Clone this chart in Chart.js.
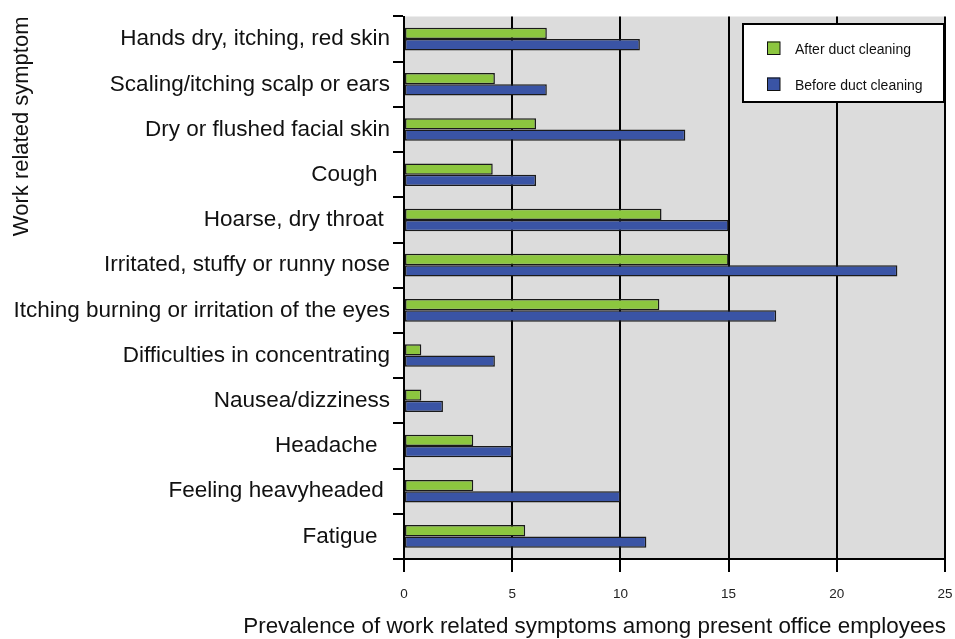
<!DOCTYPE html>
<html>
<head>
<meta charset="utf-8">
<script src="https://cdn.jsdelivr.net/npm/chart.js@4.4.0/dist/chart.umd.min.js"></script>
<style>
  html, body { margin: 0; padding: 0; background: #fff; }
  #wrap { width: 955px; height: 639px; }
</style>
</head>
<body>
<div id="wrap"><canvas id="chart" width="955" height="639"></canvas></div>
<script>
const symptoms = [
    "Hands dry, itching, red skin",
    "Scaling/itching scalp or ears",
    "Dry or flushed facial skin",
    "Cough  ",
    "Hoarse, dry throat ",
    "Irritated, stuffy or runny nose",
    "Itching burning or irritation of the eyes",
    "Difficulties in concentrating",
    "Nausea/dizziness",
    "Headache  ",
    "Feeling heavyheaded ",
    "Fatigue  "
];
const afterCleaning = [6.6, 4.2, 6.1, 4.1, 11.9, 15.0, 11.8, 0.8, 0.8, 3.2, 3.2, 5.6];
const beforeCleaning = [10.9, 6.6, 13.0, 6.1, 15.0, 22.8, 17.2, 4.2, 1.8, 5.0, 10.0, 11.2];
const xTicks = [0, 5, 10, 15, 20, 25];
const xTitle = 'Prevalence of work related symptoms among present office employees';

const FONT = "'Liberation Sans', Arial, Helvetica, sans-serif";
const GREEN = '#8cc63f';
const BLUE = '#3a54a5';

// grey plot area
const plotBackground = {
    id: 'plotBackground',
    beforeDraw(chart) {
        const { ctx, chartArea: a } = chart;
        ctx.save();
        ctx.fillStyle = '#dcdcdc';
        ctx.fillRect(a.left, a.top, a.right - a.left, a.bottom - a.top);
        ctx.restore();
    }
};

// x title runs wider than the plot, so it is drawn here, right aligned to the plot
const wideXTitle = {
    id: 'wideXTitle',
    afterDraw(chart) {
        const { ctx, chartArea: a } = chart;
        ctx.save();
        ctx.font = `22.4px ${FONT}`;
        ctx.fillStyle = '#111';
        ctx.textAlign = 'right';
        ctx.textBaseline = 'alphabetic';
        ctx.fillText(xTitle, a.right + 1, 633);
        ctx.restore();
    }
};

// boxed legend in the upper right corner
const boxLegend = {
    id: 'boxLegend',
    afterDraw(chart) {
        const { ctx } = chart;
        const x = 743, y = 24, w = 201, h = 78;
        ctx.save();
        ctx.fillStyle = '#fff';
        ctx.fillRect(x, y, w, h);
        ctx.strokeStyle = '#000';
        ctx.lineWidth = 2;
        ctx.strokeRect(x, y, w, h);
        ctx.font = `14px ${FONT}`;
        ctx.textBaseline = 'middle';
        chart.data.datasets.forEach((ds, i) => {
            const cy = 48 + i * 36;
            ctx.fillStyle = ds.backgroundColor;
            ctx.fillRect(767, cy - 6.5, 13, 13);
            ctx.lineWidth = 1;
            ctx.strokeStyle = '#111';
            ctx.strokeRect(767.5, cy - 6, 12.5, 12.5);
            ctx.fillStyle = '#111';
            ctx.fillText(ds.label, 795, cy + 2);
        });
        ctx.restore();
    }
};

new Chart(document.getElementById('chart'), {
    type: 'bar',
    data: {
        labels: symptoms,
        datasets: [
            {
                label: 'After duct cleaning',
                data: afterCleaning,
                backgroundColor: GREEN,
                borderColor: '#1a1a1a',
                borderWidth: 1.5,
                borderSkipped: false,
                categoryPercentage: 0.5,
                barPercentage: 1.0
            },
            {
                label: 'Before duct cleaning',
                data: beforeCleaning,
                backgroundColor: BLUE,
                borderColor: '#1a1a1a',
                borderWidth: 1.5,
                borderSkipped: false,
                categoryPercentage: 0.5,
                barPercentage: 1.0
            }
        ]
    },
    options: {
        indexAxis: 'y',
        responsive: false,
        animation: false,
        layout: { padding: { top: 15, right: 0, left: 0, bottom: 0 } },
        plugins: {
            legend: { display: false },
            tooltip: { enabled: false }
        },
        scales: {
            x: {
                min: 0,
                max: 25,
                afterBuildTicks: (scale) => { scale.ticks = xTicks.map(v => ({ value: v })); },
                afterFit: (scale) => {
                    scale.height = 80;
                    scale.paddingLeft = 0;
                    scale.paddingRight = 10;
                },
                border: { display: true, color: '#000', width: 2 },
                grid: {
                    color: '#000',
                    lineWidth: 2,
                    drawTicks: true,
                    tickLength: 13,
                    tickColor: '#000'
                },
                ticks: {
                    color: '#222',
                    font: { family: FONT, size: 13.5 },
                    padding: 14
                },
                title: { display: false }
            },
            y: {
                afterFit: (scale) => { scale.width = 404; },
                border: { display: true, color: '#000', width: 2 },
                grid: {
                    offset: true,
                    drawOnChartArea: false,
                    drawTicks: true,
                    tickLength: 11,
                    color: '#000',
                    lineWidth: 2
                },
                ticks: {
                    color: '#111',
                    font: { family: FONT, size: 22.5 },
                    padding: 3,
                    autoSkip: false
                },
                title: {
                    display: true,
                    text: 'Work related symptom',
                    align: 'end',
                    color: '#111',
                    font: { family: FONT, size: 22 },
                    padding: { top: 9, bottom: 0 }
                }
            }
        }
    },
    plugins: [plotBackground, wideXTitle, boxLegend]
});
</script>
</body>
</html>
